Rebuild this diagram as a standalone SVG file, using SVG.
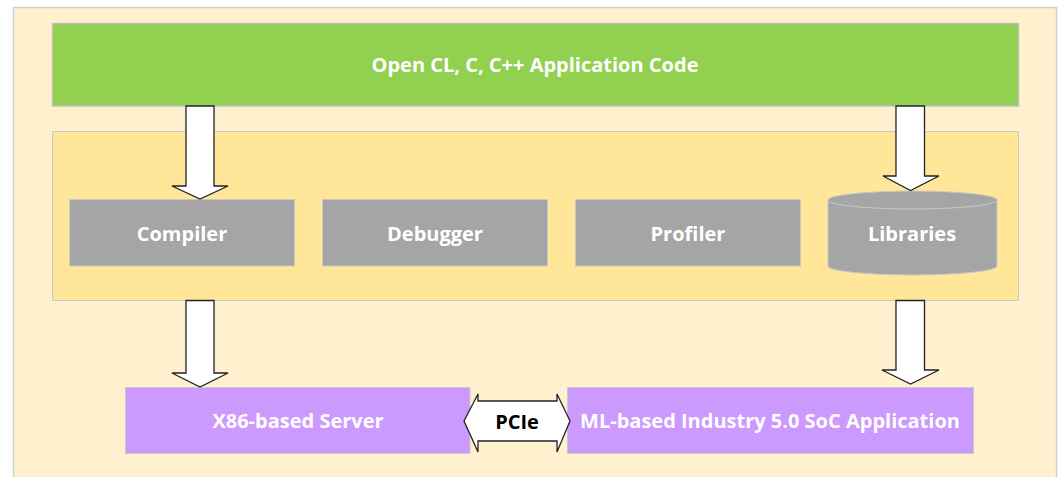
<svg xmlns="http://www.w3.org/2000/svg" width="1059" height="477" viewBox="0 0 1059 477">
<style>
.lbl{font-family:"Open Sans","Liberation Sans",sans-serif;font-weight:bold;font-size:20px;fill:#fff;text-anchor:middle;dominant-baseline:central}
.gray{fill:#A5A5A5;stroke:#C9C9C9;stroke-width:1}
.purple{fill:#CC99FF;stroke:#C9C9C9;stroke-width:1}
.arrow{fill:#fff;stroke:#222;stroke-width:1.3;stroke-linejoin:miter}
</style>
<rect width="1059" height="477" fill="#fff"/>
<rect x="13.5" y="7.5" width="1043" height="475" fill="#FFF0CE" stroke="#D0D0D0" stroke-width="1.5"/>
<g id="app">
<rect x="52.5" y="23.5" width="966" height="82.5" fill="#92D050" stroke="#C0C0C0" stroke-width="1.5"/>
<text class="lbl" x="535" y="64">Open CL, C, C++ Application Code</text>
</g>
<g id="tools">
<rect x="52.5" y="131.5" width="966" height="169" fill="#FFE699" stroke="#C9C9C9" stroke-width="1"/>
</g>
<g id="compiler"><rect class="gray" x="69.5" y="199.5" width="225" height="66.5"/><text class="lbl" x="182" y="233">Compiler</text></g>
<g id="debugger"><rect class="gray" x="322.5" y="199.5" width="225" height="66.5"/><text class="lbl" x="435" y="233">Debugger</text></g>
<g id="profiler"><rect class="gray" x="575.5" y="199.5" width="225" height="66.5"/><text class="lbl" x="688" y="233">Profiler</text></g>
<g id="libraries">
<path class="gray" d="M828 200 A84.5 9 0 0 1 997 200 L997 266 A84.5 9 0 0 1 828 266 Z"/>
<path d="M828 200 A84.5 9 0 0 0 997 200" fill="none" stroke="#C9C9C9" stroke-width="1"/>
<text class="lbl" x="912" y="233">Libraries</text>
</g>
<g id="x86"><rect class="purple" x="125.5" y="387.5" width="344.5" height="66"/><text class="lbl" x="298" y="420.5">X86-based Server</text></g>
<g id="ml"><rect class="purple" x="567.5" y="387.5" width="406" height="66"/><text class="lbl" x="770" y="420.5">ML-based Industry 5.0 SoC Application</text></g>
<g id="connectors">
<path class="arrow" d="M186 106 L214 106 L214 186 L228 186 L200 199 L172 186 L186 186 Z"/>
<path class="arrow" d="M896 106 L924.5 106 L924.5 176 L939 176 L910.5 190.5 L883 176 L896 176 Z"/>
<path class="arrow" d="M186 300.5 L214 300.5 L214 373 L228 373 L200 387 L172 373 L186 373 Z"/>
<path class="arrow" d="M896 300.5 L924.5 300.5 L924.5 370 L939 370 L910.5 384 L882 370 L896 370 Z"/>
<path class="arrow" d="M464 421 L478 394 L478 401 L557 401 L557 394 L570 421 L557 452 L557 441 L478 441 L478 452 Z"/>
<text x="517" y="421" font-family="'Open Sans','Liberation Sans',sans-serif" font-weight="bold" font-size="20" fill="#000" text-anchor="middle" dominant-baseline="central">PCIe</text>
</g>
</svg>
